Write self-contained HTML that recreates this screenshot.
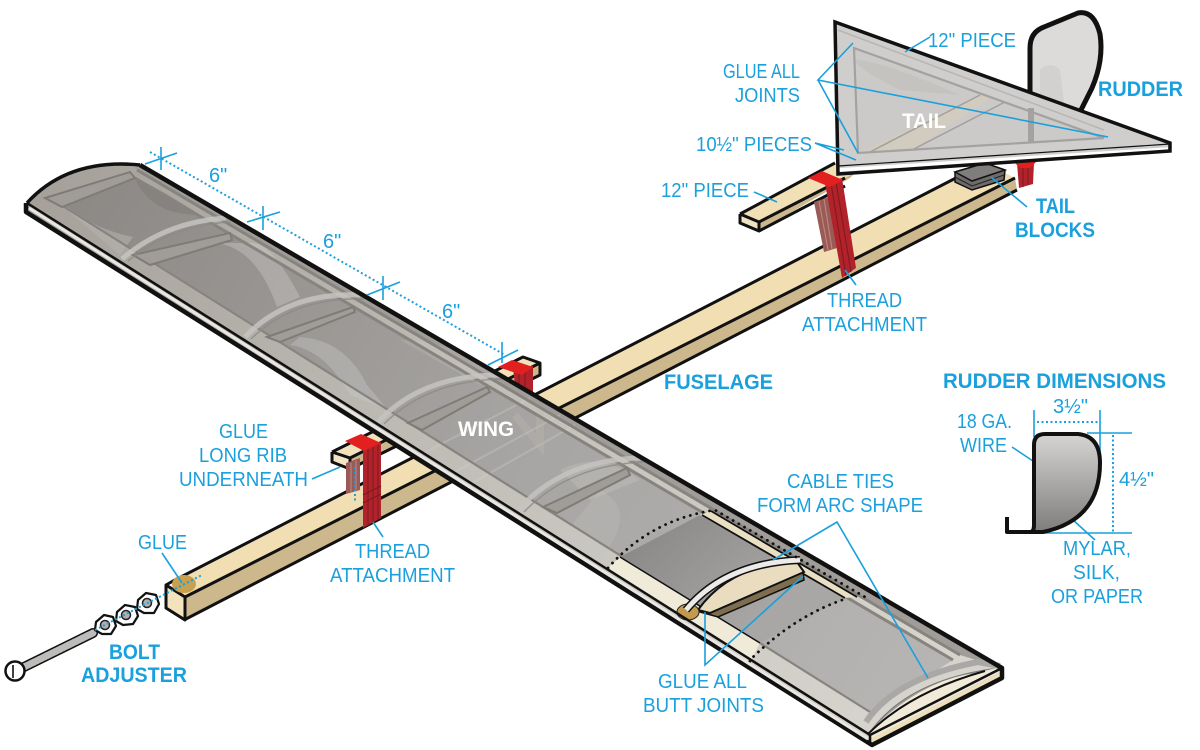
<!DOCTYPE html>
<html><head><meta charset="utf-8"><style>
html,body{margin:0;padding:0;background:#fff}
svg{display:block}
text{font-family:"Liberation Sans",sans-serif;font-size:20px;fill:#1aa0dc}
.b{font-weight:bold;font-size:21px}
.w{font-weight:bold;fill:#fff;font-size:21px}
.l{stroke:#1aa0dc;stroke-width:1.6;fill:none}
.d{stroke:#1aa0dc;stroke-width:2;fill:none;stroke-dasharray:2 2.5}
.k{stroke:#111;stroke-width:3;stroke-linejoin:round}
.rd{fill:#b2222a}.rs{fill:#9a5b56}
</style></head><body>
<svg width="1200" height="750" viewBox="0 0 1200 750" xmlns="http://www.w3.org/2000/svg">
<defs>
<linearGradient id="pan" gradientUnits="userSpaceOnUse" x1="100" y1="180" x2="950" y2="700"><stop offset="0" stop-color="#8d8986"/><stop offset=".5" stop-color="#a7a5a3"/><stop offset="1" stop-color="#b8b6b4"/></linearGradient>
<linearGradient id="str" gradientUnits="userSpaceOnUse" x1="30" y1="200" x2="860" y2="730"><stop offset="0" stop-color="#a5a09a"/><stop offset=".6" stop-color="#c6c3bd"/><stop offset="1" stop-color="#d6d3cc"/></linearGradient>
<linearGradient id="rud" x1="0" y1="0" x2="0" y2="1"><stop offset="0" stop-color="#d6d5d3"/><stop offset="1" stop-color="#7f7d7b"/></linearGradient>
<linearGradient id="cut" gradientUnits="userSpaceOnUse" x1="640" y1="530" x2="740" y2="640"><stop offset="0" stop-color="#8b8987"/><stop offset="1" stop-color="#a9a7a5"/></linearGradient>
</defs>

<!-- Rudder -->
<path d="M1030 95V48Q1030 32 1044 27L1078 13Q1094 10 1100 34Q1104 60 1092 88L1080 112Z" fill="#dcdbd9" stroke="#111" stroke-width="5" stroke-linejoin="round"/>
<path d="M1040 100V70Q1050 60 1060 70L1065 110Z" fill="#d2d1cf"/>

<!-- Tail 12 inch piece -->
<polygon points="740,214 835,163 856,172 759,222" fill="#f1e0b6"/>
<polygon points="740,214 759,222 759,231 740,223" fill="#efe3c4"/>
<polygon points="759,222 856,172 850,178 759,231" fill="#cdb88d"/>
<path d="M740 214L835 163M740 214L759 222L845 178M740 214V223L759 231V222M759 231L845 186" class="k" fill="none"/>

<!-- Fuselage -->
<polygon points="173,583 985,163 1015,178 185,597" fill="#f1dfb3"/>
<polygon points="185,597 1015,178 1017,190 184,620" fill="#cdb88d"/>
<polygon points="166,585 185,597 184,620 166,608" fill="#f2e3bd"/>
<path d="M166 585L173 581L985 163M185 597L1015 178M184 620L1017 190M166 585L185 597V620L166 608Z" class="k" fill="none"/>

<!-- tail blocks -->
<polygon points="955,172 985,163 1005,170 1004,180 972,190 955,182" fill="#6d6b69" stroke="#111" stroke-width="1.5"/>
<polygon points="955,172 985,163 1005,170 972,181" fill="#807e7c" stroke="#111" stroke-width="1.5"/>
<path d="M955 177L972 186L1004 175" stroke="#222" fill="none"/>

<!-- rear tail thread -->
<g><polygon points="1017,163 1034,163 1033,184 1019,188" fill="#b2222a"/><path d="M1023 165V187M1028 165V185" stroke="#7a1a1f"/><polygon points="1014,162 1036,162 1030,168 1020,168" fill="#e2201f"/></g>

<!-- Long rib -->
<polygon points="332,452 367,433 523,357 540,363 350,458" fill="#f1e2bc"/>
<polygon points="332,452 350,458 350,469 332,462" fill="#f3e6c6"/>
<polygon points="350,458 540,363 540,375 350,469" fill="#cdb88d"/>
<path d="M332 452L523 357L540 363V375L350 469V458L540 363M332 452L350 458M332 452V462L350 469" class="k" fill="none"/>

<!-- back thread at wing -->
<g><polygon points="513,368 533,366 533,393 515,385" fill="#b2222a"/><path d="M519 372V388M525 372V391" stroke="#7a1a1f"/><polygon points="498,367 512,360 533,367 522,375" fill="#e2201f"/></g>

<!-- Wing -->
<path d="M27 203Q68 158 140 165L1002 668V678L870 745L26 212Z" fill="url(#str)"/>
<path d="M135 168L140 165L1002 668L960 655L137 170Z" fill="#a09c98"/>
<polygon points="65,206 135,178 953,660 870,712" fill="url(#pan)"/>
<!-- swooshes -->
<path d="M67 210Q105 232 133 237L120 255Z" fill="#b5b2af" opacity=".55"/>
<path d="M213 243Q255 245 277 307L300 297Q270 240 250 243Z" fill="#cfcdca" opacity=".38"/>
<path d="M300 337Q345 340 367 385L388 410L350 395Q325 350 290 345Z" fill="#c9c7c5" opacity=".4"/>
<path d="M135 178Q150 215 200 215Q170 195 150 185Z" fill="#77736f" opacity=".4"/>
<path d="M400 340Q450 340 500 375L480 385Z" fill="#d0cecb" opacity=".2"/>
<path d="M560 470Q600 450 640 480L590 500Z" fill="#d8d6d3" opacity=".22"/>
<path d="M600 490Q640 510 600 560L560 540Z" fill="#c8c6c4" opacity=".25"/>
<!-- ghost fuselage lines through wing -->
<path d="M440 480L560 415M460 490L575 425M420 455L530 398" stroke="#d5d3d0" stroke-width="2" opacity=".3" fill="none"/>
<path d="M515 415L540 445V410" stroke="#c0b8b0" stroke-width="8" opacity=".3" fill="none"/>
<!-- spars -->
<path d="M50 198L870 712" stroke="#87837f" stroke-width="2.2" fill="none"/>
<path d="M137 170L960 655" stroke="#87837f" stroke-width="3" fill="none"/>
<path d="M135 178L953 660" stroke="#87837f" stroke-width="3" fill="none"/>
<!-- bars -->
<g fill="#a09c97" stroke="#7f7b77" stroke-width="2">
<polygon points="45,198 130,172 135,178 62,207"/>
<polygon points="133,255 230,233 232,240 150,265"/>
<polygon points="267,337 353,307 355,312 280,342"/>
<polygon points="408,423 487,387 490,392 422,430"/>
<polygon points="543,507 627,468 630,475 557,513"/>
</g>
<!-- ribs -->
<g fill="none" stroke="#c6c4c1" stroke-width="5" opacity=".85">
<path d="M122 259Q165 222 226 218"/><path d="M245 337Q288 292 360 295"/><path d="M378 422Q422 375 500 375"/><path d="M518 510Q563 460 640 458"/>
</g>
<g fill="none" stroke="#8e8a86" stroke-width="1.5" opacity=".8">
<path d="M128 261Q170 226 230 222"/><path d="M251 339Q294 297 364 299"/><path d="M384 424Q428 380 504 379"/><path d="M524 512Q569 465 644 462"/>
</g>

<!-- Cutout -->
<polygon points="620,557 700,515 845,598 760,643" fill="url(#cut)"/>
<polygon points="608,568 620,557 760,643 750,662" fill="#f0ead9"/>
<polygon points="700,515 711,511 857,597 845,598" fill="#e9dfc3"/>
<path d="M702 515L845 598M711 511L857 597" stroke="#111" stroke-width="1.8" fill="none"/>
<path d="M620 557L760 643" stroke="#111" stroke-width="1.5" fill="none"/>
<!-- wood bar -->
<polygon points="700,612 803,572 804,580 718,617" fill="#7f6d4f" stroke="#111" stroke-width="1.5"/>
<path d="M698 610Q730 565 797 562L804 572L710 613Z" fill="#e9dcbf" stroke="#111" stroke-width="2"/>
<ellipse cx="688" cy="612" rx="11" ry="8" fill="#c39a4c" stroke="#222"/>
<path d="M686 610Q725 563 800 560" fill="none" stroke="#111" stroke-width="8"/>
<path d="M686 610Q725 563 800 560" fill="none" stroke="#ecebea" stroke-width="5"/>
<!-- dotted arcs -->
<g fill="none" stroke="#111" stroke-width="2.8" stroke-linecap="round" stroke-dasharray="0.1 6.5">
<path d="M608 568Q650 520 715 510L865 597"/>
<path d="M748 668L750 660Q795 615 848 598"/>
</g>

<!-- Wing end -->
<path d="M868 735Q905 680 998 668L1000 670L872 737Z" fill="#9d9b99" stroke="#777" stroke-width="1"/>
<path d="M868 733Q920 680 976 673L996 668L1000 672L872 738Z" fill="#f1ead8"/>
<path d="M868 734Q910 692 985 671" fill="none" stroke="#111" stroke-width="2"/>
<path d="M866 722Q895 678 978 662L1000 666" fill="none" stroke="#a9a8a6" stroke-width="6"/>
<path d="M872 738L1002 672V678L872 745Z" fill="#eedfb8"/>
<path d="M140 165L1002 668V678L872 745L26 212V203" fill="none" stroke="#111" stroke-width="4.5" stroke-linejoin="round"/>
<path d="M27 203L870 735V745M870 735L1002 668" fill="none" stroke="#111" stroke-width="2.5"/>
<path d="M29 208L868 739" stroke="#e9e7e2" stroke-width="3" fill="none"/>
<path d="M27 203Q68 158 140 165" fill="none" stroke="#111" stroke-width="3.5"/>

<!-- Front thread -->
<g>
<polygon points="346,463 360,458 360,490 346,494" class="rs"/><path d="M351 463V492M356 461V490" stroke="#c08a84"/>
<polygon points="363,448 381,442 381,518 363,528" fill="#b2222a"/>
<path d="M368 448V526M373 446V524M378 444V520" stroke="#7a1a1f"/>
<path d="M363 495L381 486M363 503L381 494" stroke="#7a1a1f"/>
<polygon points="345,441 361,434 381,443 364,451" fill="#e2201f"/>
</g>

<!-- Tail -->
<polygon points="835,22 1170,145 1170,152 838,173" fill="#cfcecc"/>
<polygon points="854,48 1104,138 858,153" fill="#cbcac9"/>
<path d="M854 60Q880 60 960 95L900 90Q860 70 854 60Z" fill="#bdbbb8" opacity=".5"/>
<polygon points="859,153 980,95 990,98 912,150 870,152" fill="#d2ccc0"/>
<path d="M912 150L1005 102M870 152L980 95" stroke="#a3a09b" stroke-width="1.5" fill="none"/>
<rect x="1028" y="108" width="6" height="35" fill="#a3a2a0"/>
<path d="M854 48L1104 138L858 153Z" fill="none" stroke="#a3a2a0" stroke-width="2.2"/>
<path d="M838 30L1104 130" stroke="#b7b6b4" stroke-width="1.5" fill="none"/>
<path d="M838 170L1168 149" stroke="#fff" stroke-width="3.5" fill="none"/>
<path d="M835 22L1170 143V151L838 174Z" fill="none" stroke="#111" stroke-width="3.5" stroke-linejoin="miter"/>
<path d="M838 166L1170 144" stroke="#111" stroke-width="1.2" fill="none"/>

<!-- Tail thread -->
<g>
<polygon points="814,202 829,197 837,248 824,252" class="rs"/><path d="M819 201L828 250M824 199L832 249" stroke="#c08a84"/>
<polygon points="825,183 842,178 856,268 842,278" fill="#b2222a"/>
<path d="M831 183L846 276M836 182L851 272" stroke="#7a1a1f"/>
<polygon points="808,178 822,171 843,180 830,187" fill="#e2201f"/>
</g>

<!-- Bolt -->
<path d="M22 668L93 633" stroke="#111" stroke-width="10" stroke-linecap="round"/>
<path d="M22 668L93 633" stroke="#bdbcba" stroke-width="7" stroke-linecap="round" stroke-dasharray="2 1"/>
<circle cx="15" cy="671" r="9.5" fill="#fff" stroke="#111" stroke-width="2.5"/>
<path d="M13 665V678" stroke="#111" stroke-width="1.6"/>
<g fill="#fff" stroke="#111" stroke-width="2.2" stroke-linejoin="round">
<polygon points="96,622 104,615 113,617 116,626 111,634 102,634 95,630"/>
<polygon points="117,612 125,605 135,607 138,616 133,624 123,625 116,621"/>
<polygon points="138,600 146,593 156,595 159,604 154,613 144,613 137,609"/>
</g>
<g fill="#b0afad" stroke="#222" stroke-width="1.5"><circle cx="105" cy="625" r="4.5"/><circle cx="126" cy="615" r="4.5"/><circle cx="147" cy="603" r="4.5"/></g>
<ellipse cx="184" cy="584" rx="12" ry="9" fill="#c7a050"/>

<!-- Leaders -->
<g class="l">
<path class="l" d="M930 37L905 52"/>
<path class="l" d="M853 43L818 80L1108 137M818 80L858 153"/>
<path class="l" d="M815 143L844 150M815 143L856 160"/>
<path class="l" d="M754 192L777 202"/>
<path class="l" d="M856 285L845 270"/>
<path class="l" d="M1027 207L991 177"/>
<path class="l" d="M1034 410V437M1100 410V457M1087 433H1132M1043 533H1132"/>
<path class="l" d="M1012 447L1036 463M1095 540L1062 510"/>
<path class="l" d="M773 560L837 522L928 678"/>
<path class="l" d="M705 612V665L803 576"/>
<path class="l" d="M162 553L182 583"/>
<path class="l" d="M312 479L340 467"/>
<path class="l" d="M383 537L373 522"/>
<path class="l" d="M145 164L177 153M161 147V170M247 222L280 212M263 206V230M367 295L400 282M383 276V300M488 365L518 350M502 342V363"/>
</g>
<path class="d" d="M150 152L505 355"/>
<path class="d" d="M1037 422H1098M1113 435V532"/>
<path class="d" d="M355 467V502"/>
<path class="d" d="M95 630L202 575"/>

<!-- Text -->
<text x="928" y="47" textLength="88" lengthAdjust="spacingAndGlyphs">12" PIECE</text>
<text x="723" y="78" textLength="77" lengthAdjust="spacingAndGlyphs">GLUE ALL</text>
<text x="735" y="102" textLength="65" lengthAdjust="spacingAndGlyphs">JOINTS</text>
<text x="1098" y="96" textLength="85" lengthAdjust="spacingAndGlyphs" class="b">RUDDER</text>
<text x="902" y="128" textLength="44" lengthAdjust="spacingAndGlyphs" class="w">TAIL</text>
<text x="696" y="151" textLength="116" lengthAdjust="spacingAndGlyphs">10½" PIECES</text>
<text x="661" y="197" textLength="88" lengthAdjust="spacingAndGlyphs">12" PIECE</text>
<text x="1036" y="213" textLength="39" lengthAdjust="spacingAndGlyphs" class="b">TAIL</text>
<text x="1015" y="237" textLength="80" lengthAdjust="spacingAndGlyphs" class="b">BLOCKS</text>
<text x="827" y="307" textLength="75" lengthAdjust="spacingAndGlyphs">THREAD</text>
<text x="802" y="331" textLength="125" lengthAdjust="spacingAndGlyphs">ATTACHMENT</text>
<text x="664" y="389" textLength="109" lengthAdjust="spacingAndGlyphs" class="b">FUSELAGE</text>
<text x="209" y="182">6"</text>
<text x="323" y="248">6"</text>
<text x="442" y="318">6"</text>
<text x="943" y="388" textLength="223" lengthAdjust="spacingAndGlyphs" class="b">RUDDER DIMENSIONS</text>
<text x="1053" y="413" textLength="35" lengthAdjust="spacingAndGlyphs">3½"</text>
<text x="957" y="428" textLength="55" lengthAdjust="spacingAndGlyphs">18 GA.</text>
<text x="960" y="452" textLength="47" lengthAdjust="spacingAndGlyphs">WIRE</text>
<text x="1119" y="486" textLength="35" lengthAdjust="spacingAndGlyphs">4½"</text>
<text x="1063" y="555" textLength="68" lengthAdjust="spacingAndGlyphs">MYLAR,</text>
<text x="1073" y="579" textLength="47" lengthAdjust="spacingAndGlyphs">SILK,</text>
<text x="1051" y="603" textLength="92" lengthAdjust="spacingAndGlyphs">OR PAPER</text>
<text x="787" y="488" textLength="107" lengthAdjust="spacingAndGlyphs">CABLE TIES</text>
<text x="757" y="512" textLength="166" lengthAdjust="spacingAndGlyphs">FORM ARC SHAPE</text>
<text x="658" y="688" textLength="89" lengthAdjust="spacingAndGlyphs">GLUE ALL</text>
<text x="643" y="712" textLength="121" lengthAdjust="spacingAndGlyphs">BUTT JOINTS</text>
<text x="458" y="436" textLength="56" lengthAdjust="spacingAndGlyphs" class="w">WING</text>
<text x="219" y="438" textLength="49" lengthAdjust="spacingAndGlyphs">GLUE</text>
<text x="199" y="462" textLength="88" lengthAdjust="spacingAndGlyphs">LONG RIB</text>
<text x="179" y="486" textLength="129" lengthAdjust="spacingAndGlyphs">UNDERNEATH</text>
<text x="138" y="549" textLength="49" lengthAdjust="spacingAndGlyphs">GLUE</text>
<text x="355" y="558" textLength="75" lengthAdjust="spacingAndGlyphs">THREAD</text>
<text x="330" y="582" textLength="125" lengthAdjust="spacingAndGlyphs">ATTACHMENT</text>
<text x="109" y="659" textLength="51" lengthAdjust="spacingAndGlyphs" class="b">BOLT</text>
<text x="81" y="682" textLength="106" lengthAdjust="spacingAndGlyphs" class="b">ADJUSTER</text>

<!-- Rudder dims shape -->
<path d="M1034 532V445Q1034 434 1045 434H1078Q1100 436 1100 463Q1100 520 1043 532Z" fill="url(#rud)"/>
<path d="M1007 517V532H1030Q1034 532 1034 525V445Q1034 434 1045 434H1078Q1100 436 1100 463Q1100 520 1043 532H1030" fill="none" stroke="#111" stroke-width="4" stroke-linejoin="round"/>
</svg>
</body></html>
